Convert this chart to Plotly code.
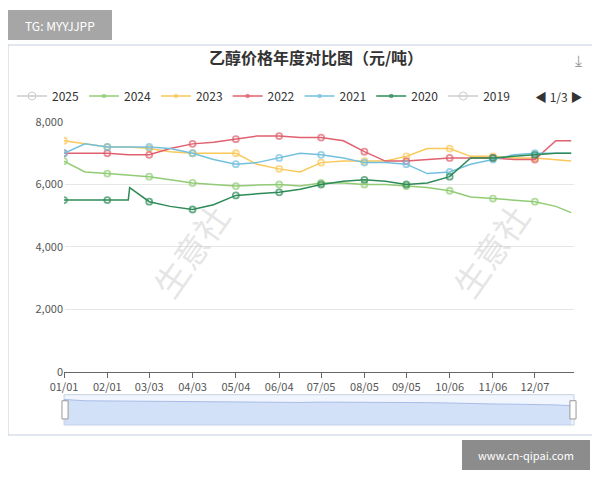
import plotly.graph_objects as go

# day-of-year positions of the axis ticks
tick_days = [0, 31, 61, 92, 123, 154, 184, 215, 245, 276, 307, 337]
tick_text = ['01/01', '02/01', '03/03', '04/03', '05/04', '06/04',
             '07/05', '08/05', '09/05', '10/06', '11/06', '12/07']

days = [0, 15, 31, 46, 47, 61, 76, 92, 107, 123, 138, 154, 169,
        184, 200, 215, 230, 245, 260, 276, 291, 307, 322, 337, 352, 363]

p2024 = [6750, 6400, 6350, 6300, 6300, 6250, 6150, 6050, 6000, 5950, 5980, 6000, 5950,
         6050, 6050, 6000, 6000, 5950, 5900, 5800, 5600, 5550, 5500, 5450, 5300, 5100]
p2023 = [7400, 7300, 7200, 7200, 7200, 7150, 7050, 7000, 7000, 7000, 6650, 6500, 6400,
         6700, 6750, 6750, 6750, 6900, 7150, 7150, 6900, 6900, 6850, 6850, 6800, 6750]
p2022 = [7000, 7000, 7000, 6950, 6950, 6950, 7150, 7300, 7350, 7450, 7550, 7550, 7500,
         7500, 7400, 7050, 6750, 6750, 6800, 6850, 6850, 6850, 6800, 6800, 7400, 7400]
p2021 = [7000, 7300, 7200, 7200, 7200, 7200, 7150, 7000, 6800, 6650, 6700, 6850, 7000,
         6950, 6850, 6700, 6700, 6650, 6350, 6400, 6650, 6800, 6950, 7000, 7000, 7000]
p2020 = [5500, 5500, 5500, 5500, 5900, 5450, 5300, 5200, 5350, 5650, 5700, 5750, 5850,
         6000, 6100, 6150, 6100, 6000, 6050, 6250, 6850, 6850, 6900, 6950, 7000, 7000]

series = [('2024', p2024, '#91cc75'), ('2023', p2023, '#fac858'),
          ('2022', p2022, '#e0606e'), ('2021', p2021, '#73c0de'),
          ('2020', p2020, '#2e8b57')]

# markers only at the monthly ticks
msize = [6 if d in tick_days else 0 for d in days]

fig = go.Figure()
fig.add_trace(go.Scatter(x=[None], y=[None], name='2025', mode='lines+markers',
                         line=dict(color='#cccccc', width=1.5),
                         marker=dict(symbol='circle-open', size=8, color='#cccccc')))
for name, vals, col in series:
    fig.add_trace(go.Scatter(x=days, y=vals, name=name, mode='lines+markers',
                             line=dict(color=col, width=1.5),
                             marker=dict(symbol='circle-open', size=msize, color=col,
                                         line=dict(width=1.8))))
fig.add_trace(go.Scatter(x=[None], y=[None], name='2019', mode='lines+markers',
                         line=dict(color='#cccccc', width=1.5),
                         marker=dict(symbol='circle-open', size=8, color='#cccccc')))

# slider preview area
fig.add_trace(go.Scatter(x=days, y=p2024, mode='lines', fill='tozeroy', showlegend=False,
                         line=dict(color='#a9bce8', width=1), fillcolor='rgba(190,210,245,0.6)',
                         xaxis='x2', yaxis='y2', hoverinfo='skip'))


# screen pixel -> paper fraction (plot area 64..574 x, 122..425 y on screen)
def px(xp, yp):
    return (xp - 64) / 510, (425 - yp) / 303


fig.update_layout(
    width=592, height=472,
    margin=dict(l=56, r=26, t=114, b=55, autoexpand=False),
    paper_bgcolor='white', plot_bgcolor='white',
    font=dict(family='Noto Sans CJK SC, Noto Sans', size=12, color='#555'),
    title=dict(text='<b>乙醇价格年度对比图（元/吨）</b>', x=px(316, 0)[0], xref='paper',
               y=1 - 50 / 472, xanchor='center',
               yanchor='middle', font=dict(size=16, color='#333')),
    legend=dict(orientation='h', x=px(12, 0)[0], y=px(0, 96)[1], yref='paper', xref='paper',
                yanchor='middle', xanchor='left', font=dict(size=12, color='#333'),
                itemwidth=30, tracegroupgap=0),
    xaxis=dict(range=[0, 365], tickvals=tick_days, ticktext=tick_text, tickangle=0,
               showgrid=False, showline=True, linecolor='#666', ticks='outside',
               ticklen=5, tickcolor='#666', anchor='y', tickfont=dict(size=11)),
    yaxis=dict(domain=[0.175, 1], range=[0, 8000], tickvals=[0, 2000, 4000, 6000, 8000],
               tickformat=',', gridcolor='#e6e6e6', zeroline=False, tickfont=dict(size=11)),
    xaxis2=dict(range=[0, 365], anchor='y2', visible=False),
    yaxis2=dict(domain=[0, 0.1], range=[0, 8000], visible=False),
    showlegend=True,
)

shapes = [
    dict(type='rect', xref='paper', yref='paper', x0=0, x1=1, y0=0, y1=0.1,
         line=dict(color='#c8d0e0', width=1), fillcolor='rgba(220,230,250,0.4)', layer='below'),
    dict(type='rect', xref='paper', yref='paper', x0=-0.004, x1=0.008, y0=0.02, y1=0.08,
         line=dict(color='#999', width=1), fillcolor='white'),
    dict(type='rect', xref='paper', yref='paper', x0=0.992, x1=1.004, y0=0.02, y1=0.08,
         line=dict(color='#999', width=1), fillcolor='white'),
]
fig.update_layout(shapes=shapes)


def box_note(xa, ya, xb, yb, text, fill, size):
    ax0, ay0 = px(xa, ya)
    ax1, ay1 = px(xb, yb)
    fig.add_shape(type='rect', xref='paper', yref='paper', x0=ax0, x1=ax1, y0=ay1, y1=ay0,
                  line=dict(width=0), fillcolor=fill)
    fig.add_annotation(x=(ax0 + ax1) / 2, y=(ay0 + ay1) / 2, xref='paper', yref='paper',
                       xanchor='center', yanchor='middle', text=text, showarrow=False,
                       font=dict(color='white', size=size))


x0, y0 = px(8, 45)
x1, y1 = px(596, 435)
fig.add_shape(type='rect', xref='paper', yref='paper', x0=x0, x1=x1, y0=y1, y1=y0,
              line=dict(color='#c5cfe0', width=1))
box_note(8, 10, 112, 40, 'TG: MYYJJPP', '#a6a6a6', 12)
box_note(462, 440, 590, 470, 'www.cn-qipai.com', '#8c8c8c', 11)

lx, ly = px(558, 96)
fig.add_annotation(x=lx, y=ly, xref='paper', yref='paper', xanchor='center', yanchor='middle',
                   text='◀ 1/3 ▶', showarrow=False, font=dict(size=12, color='#333'))
dx, dy = px(578, 60)
fig.add_annotation(x=dx, y=dy, xref='paper', yref='paper', xanchor='center', yanchor='middle',
                   text='⤓', showarrow=False, font=dict(size=16, color='#999'))

for wx, wy in [(190, 250), (490, 250)]:
    ax_, ay_ = px(wx, wy)
    fig.add_annotation(x=ax_, y=ay_, xref='paper', yref='paper', text='生意社',
                       xanchor='center', yanchor='middle',
                       showarrow=False, textangle=-55,
                       font=dict(size=34, color='rgba(180,180,180,0.35)'))

fig.write_html("out.html")
